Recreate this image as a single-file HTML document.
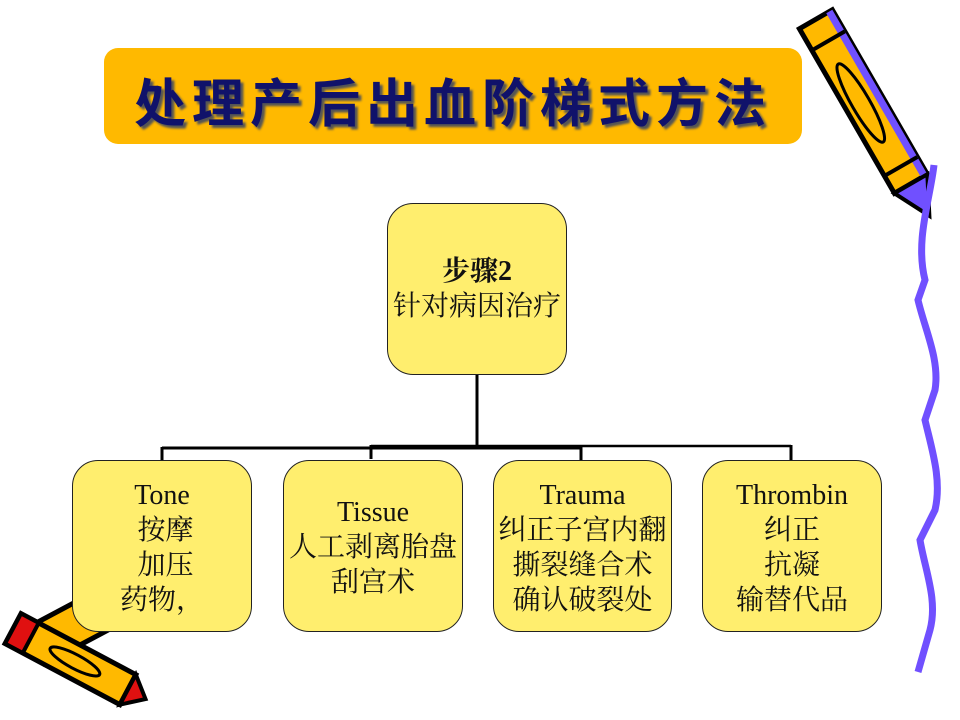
<!DOCTYPE html>
<html><head><meta charset="utf-8"><style>
body{margin:0;width:960px;height:720px;background:#fff;position:relative;overflow:hidden;font-family:"Liberation Serif","Noto Serif CJK SC",serif;}
.t{position:absolute;left:104px;top:48px;width:698px;height:96px;background:#FFB900;border-radius:14px;}
.t span{position:absolute;left:0;right:0;top:14px;text-align:center;font:bold 52px "Noto Sans CJK SC",sans-serif;color:#10126A;letter-spacing:6px;text-shadow:3px 3px 2px #555;}
.b{position:absolute;background:#FFEE6E;border:1.5px solid #222;border-radius:26px;box-sizing:border-box;text-align:center;font-size:28px;line-height:35px;color:#111;white-space:nowrap;}
</style></head><body>
<div class="t"><span>处理产后出血阶梯式方法</span></div>
<svg width="960" height="720" style="position:absolute;left:0;top:0">
<g stroke="#000" stroke-width="3" fill="none">
<line x1="477" y1="375" x2="477" y2="447"/>
<line x1="162" y1="448" x2="582" y2="448"/>
<line x1="371" y1="446" x2="791" y2="446" stroke-width="2.5"/>
<line x1="162" y1="447" x2="162" y2="461"/>
<line x1="371" y1="445" x2="371" y2="459"/>
<line x1="581" y1="446" x2="581" y2="460"/>
<line x1="791" y1="445" x2="791" y2="460"/>
</g>
<g transform="rotate(-30 870 115)">
<rect x="852" y="5" width="38" height="190" fill="#FFB900" stroke="#000" stroke-width="5"/>
<rect x="883" y="5" width="7" height="190" fill="#7050FF"/>
<ellipse cx="868" cy="100" rx="9" ry="45" fill="none" stroke="#000" stroke-width="3"/>
<polygon points="852,195 890,195 871,232" fill="#7050FF" stroke="#000" stroke-width="4"/>
<line x1="852" y1="30" x2="890" y2="30" stroke="#000" stroke-width="4"/>
<line x1="852" y1="175" x2="890" y2="175" stroke="#000" stroke-width="4"/>
</g>
<path d="M934,165 C930,200 915,240 925,280 L918,300 C925,330 940,360 935,390 L925,420 C932,450 942,480 935,510 L920,540 C925,570 938,600 930,630 L918,672" fill="none" stroke="#7050FF" stroke-width="7"/>
<g transform="rotate(62 95 620)">
<rect x="70" y="575" width="40" height="110" fill="#FFB900" stroke="#000" stroke-width="5"/>
</g>
<g transform="rotate(28 70 660)">
<rect x="5" y="642" width="130" height="34" fill="#FFB900" stroke="#000" stroke-width="5"/>
<rect x="5" y="642" width="20" height="34" fill="#E01010" stroke="#000" stroke-width="4"/>
<polygon points="135,642 135,676 155,659" fill="#E01010" stroke="#000" stroke-width="4"/>
<ellipse cx="75" cy="659" rx="28" ry="7" fill="none" stroke="#000" stroke-width="3"/>
</g>
</svg>
<div class="b" style="left:387px;top:203px;width:180px;height:172px;padding-top:50px;"><b>步骤2</b><br>针对病因治疗</div>
<div class="b" style="left:72px;top:460px;width:180px;height:172px;padding-top:17px;">Tone<br>&nbsp;按摩<br>&nbsp;加压<br>药物，</div>
<div class="b" style="left:283px;top:460px;width:180px;height:172px;padding-top:34px;">Tissue<br>人工剥离胎盘<br>刮宫术</div>
<div class="b" style="left:493px;top:460px;width:179px;height:172px;padding-top:17px;">Trauma<br>纠正子宫内翻<br>撕裂缝合术<br>确认破裂处</div>
<div class="b" style="left:702px;top:460px;width:180px;height:172px;padding-top:17px;">Thrombin<br>纠正<br>抗凝<br>输替代品</div>
</body></html>
